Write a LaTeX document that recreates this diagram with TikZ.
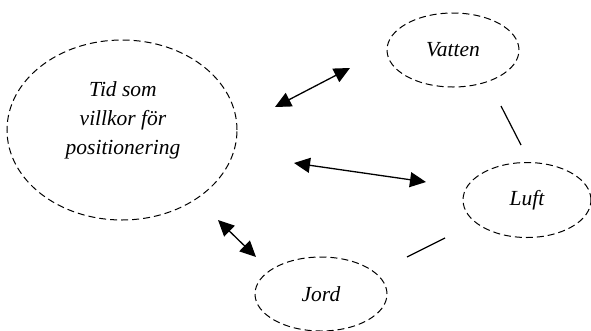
\documentclass[tikz,border=0pt]{standalone}
\usepackage{fontspec}
\setmainfont{Liberation Serif}
\usetikzlibrary{shapes.geometric,arrows.meta}
\begin{document}
\begin{tikzpicture}[x=1pt,y=-1pt,
  topic/.style={ellipse,draw,line width=1pt,dash pattern=on 7pt off 4pt,
    inner sep=0pt},
  words/.style={align=center,inner sep=0pt,font=\fontsize{21.5}{29}\selectfont\itshape},
  link/.style={line width=1.3pt,{Triangle[length=16pt,width=15pt]}-{Triangle[length=16pt,width=15pt]}},
  plain/.style={line width=1.2pt}]
\useasboundingbox (0,0) rectangle (591,330);
% circles of the diagram
\node[topic,minimum width=230pt,minimum height=180pt] (tid) at (122,130) {};
\node[words] (tidtext) at (123,120) {Tid som\\villkor för\\positionering};
\node[topic,words,minimum width=132pt,minimum height=74pt] (vatten) at (453,50) {Vatten};
\node[topic,words,minimum width=128pt,minimum height=75pt] (luft) at (527,200) {Luft};
\node[topic,words,minimum width=132pt,minimum height=74pt] (jord) at (321,294) {Jord};
% connector ends
\coordinate (tv) at (275,107);
\coordinate (vt) at (350,68);
\coordinate (tl) at (294,163);
\coordinate (lt) at (426,182);
\coordinate (tj) at (218,220);
\coordinate (jt) at (256,257);
\coordinate (vl) at (501,106);
\coordinate (lv) at (521,145);
\coordinate (lj) at (445,238);
\coordinate (jl) at (407,257);
% connectors
\draw[link] (tv) -- (vt);
\draw[link] (tl) -- (lt);
\draw[link] (tj) -- (jt);
\draw[plain] (vl) -- (lv);
\draw[plain] (lj) -- (jl);
\end{tikzpicture}
\end{document}
